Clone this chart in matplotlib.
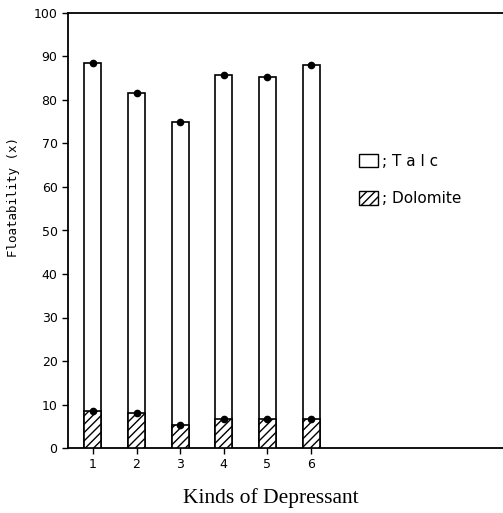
import numpy as np
import matplotlib.pyplot as plt
from matplotlib.patches import Patch

kinds = [1, 2, 3, 4, 5, 6]
talc = [88.4, 81.7, 75.0, 85.8, 85.3, 88.0]
dolomite = [8.6, 8.1, 5.4, 6.6, 6.7, 6.6]

fig = plt.figure(figsize=(5.03, 5.13), dpi=100)
ax = fig.add_axes([68/503, 65/513, 1 - 68/503, (448-13)/513])

w = 0.39
ax.bar(kinds, talc, width=w, facecolor='white', edgecolor='black', linewidth=1.2, zorder=2)
ax.bar(kinds, dolomite, width=w, facecolor='white', edgecolor='black', hatch='////', linewidth=1.2, zorder=3)
ax.plot(kinds, talc, 'o', color='black', ms=4.5, zorder=4)
ax.plot(kinds, dolomite, 'o', color='black', ms=4.5, zorder=4)

ax.set_xlim(0.43, 10.4)
ax.set_ylim(0, 100)
ax.set_yticks(np.arange(0, 101, 10))
ax.set_xticks(kinds)
ax.spines['right'].set_visible(False)
for s in ['left', 'top', 'bottom']:
    ax.spines[s].set_linewidth(1.3)
ax.tick_params(direction='out', length=4, width=1, labelsize=9)

fig.text(14/503, 1 - 197/513, 'Floatability (x)', rotation=90, fontsize=9,
         ha='center', va='center', family='DejaVu Sans Mono')
fig.text(271/503, 1 - 498/513, 'Kinds of Depressant', fontsize=15.5,
         ha='center', va='center', family='Liberation Serif')

handles = [Patch(facecolor='white', edgecolor='black'),
           Patch(facecolor='white', edgecolor='black', hatch='////')]
ax.legend(handles, ['; T a l c', '; Dolomite'], frameon=False, fontsize=11,
          loc='upper left', bbox_to_anchor=(345/503, 1 - 140/513),
          bbox_transform=fig.transFigure, handlelength=1.24, handleheight=1.0,
          handletextpad=0.3, labelspacing=1.47)

fig.savefig('out.png', dpi=100)
